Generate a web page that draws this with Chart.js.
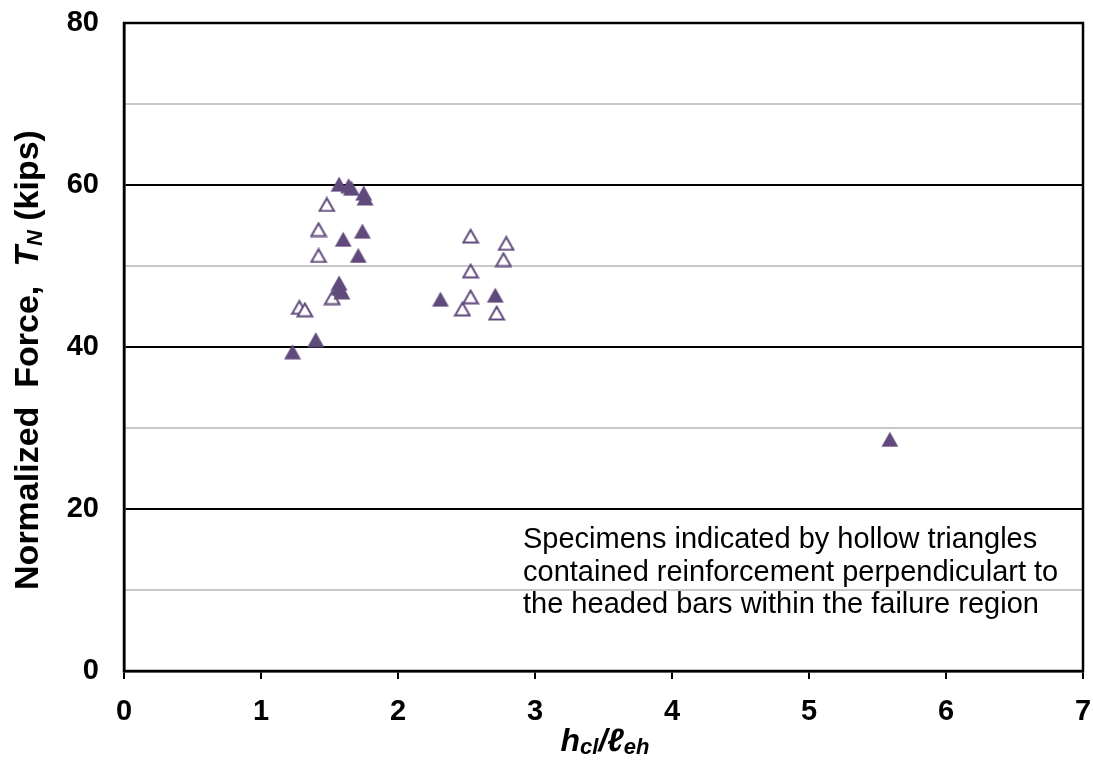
<!DOCTYPE html>
<html>
<head>
<meta charset="utf-8">
<script src="https://cdn.jsdelivr.net/npm/chart.js@4"></script>
<style>
  html, body { margin: 0; padding: 0; background: #fff; }
  #wrap { width: 1093px; height: 762px; }
</style>
</head>
<body>
<div id="wrap"><canvas id="c" width="1093" height="762"></canvas></div>
<script>
// filled triangles (no perpendicular reinforcement)
const solidX = [1.23, 1.40, 1.57, 1.64, 1.66, 1.75, 1.76, 1.60, 1.74, 1.71, 1.57, 1.57, 1.59, 2.31, 2.71, 5.59];
const solidY = [39.4, 40.9, 60.1, 59.9, 59.6, 59.0, 58.4, 53.3, 54.3, 51.3, 47.9, 47.3, 46.8, 45.9, 46.4, 28.6];
// hollow triangles (reinforcement within failure region)
const hollowX = [1.48, 1.42, 1.42, 1.52, 1.28, 1.32, 2.53, 2.79, 2.77, 2.53, 2.53, 2.47, 2.72];
const hollowY = [57.6, 54.5, 51.3, 46.1, 44.9, 44.6, 53.7, 52.8, 50.8, 49.4, 46.2, 44.7, 44.2];
const noteLines = [
  'Specimens indicated by hollow triangles',
  'contained reinforcement perpendiculart to',
  'the headed bars within the failure region'
];

const purple = '#604a7b';
const FONT = '"Liberation Sans", Arial, sans-serif';

// Excel-like triangle marker, centred in its box
function triMarker(filled) {
  const cv = document.createElement('canvas');
  cv.width = 18; cv.height = 16;
  const g = cv.getContext('2d');
  g.beginPath();
  if (filled) {
    g.moveTo(9, 0.5); g.lineTo(17.5, 15.5); g.lineTo(0.5, 15.5);
  } else {
    g.moveTo(9, 1.8); g.lineTo(16.3, 14.6); g.lineTo(1.7, 14.6);
  }
  g.closePath();
  if (filled) {
    g.fillStyle = purple; g.fill();
  } else {
    g.fillStyle = '#fff'; g.fill();
    g.lineWidth = 2; g.strokeStyle = purple; g.stroke();
  }
  return cv;
}

const toPts = (xs, ys) => xs.map((x, i) => ({ x: x, y: ys[i] }));

function drawParts(ctx, parts, cx, y) {
  let w = 0;
  parts.forEach(p => { ctx.font = p[1]; w += ctx.measureText(p[0]).width; });
  let x = cx - w / 2;
  parts.forEach(p => {
    ctx.font = p[1];
    ctx.fillText(p[0], x, y + p[2]);
    x += ctx.measureText(p[0]).width;
  });
}

const frameAndText = {
  id: 'frameAndText',
  afterDraw(chart) {
    const { ctx, chartArea: a } = chart;
    ctx.save();
    ctx.strokeStyle = '#000';
    ctx.lineWidth = 2.5;
    ctx.strokeRect(a.left, a.top, a.right - a.left, a.bottom - a.top);

    // note
    ctx.fillStyle = '#000';
    ctx.font = '29px ' + FONT;
    ctx.textBaseline = 'alphabetic';
    ctx.textAlign = 'left';
    noteLines.forEach((t, i) => ctx.fillText(t, 523, 548 + i * 32.5));

    // x axis title: h_cl / l_eh
    const big = 'italic bold 32px ' + FONT;
    const sub = 'italic bold 22px ' + FONT;
    drawParts(ctx, [['h', big, 0], ['cl', sub, 3], ['/', big, 0], ['\u2113', big, 0], ['eh', sub, 3]], 605, 751);

    // y axis title
    ctx.translate(38, 360);
    ctx.rotate(-Math.PI / 2);
    const yb = 'bold 34px ' + FONT;
    const yi = 'italic bold 34px ' + FONT;
    const ys = 'italic bold 22px ' + FONT;
    drawParts(ctx, [['Normalized  Force,  ', yb, 0], ['T', yi, 0], ['N', ys, 4], [' (kips)', yb, 0]], 0, 0);
    ctx.restore();
  }
};

new Chart(document.getElementById('c'), {
  type: 'scatter',
  data: {
    datasets: [
      { label: 'Solid', data: toPts(solidX, solidY), pointStyle: triMarker(true), pointRadius: 9, pointHoverRadius: 9 },
      { label: 'Hollow', data: toPts(hollowX, hollowY), pointStyle: triMarker(false), pointRadius: 9, pointHoverRadius: 9 }
    ]
  },
  options: {
    responsive: false,
    animation: false,
    layout: { padding: { left: 0, right: 8, top: 23, bottom: 0 } },
    plugins: { legend: { display: false }, tooltip: { enabled: false } },
    scales: {
      x: {
        type: 'linear', min: 0, max: 7,
        afterFit(s) { s.height = 91; s.paddingLeft = 0; s.paddingRight = 0; },
        ticks: {
          stepSize: 1, color: '#000', padding: 16,
          font: { family: FONT, size: 29, weight: 'bold' }
        },
        grid: { drawOnChartArea: false, drawTicks: true, tickLength: 8, color: '#000', lineWidth: 2 },
        border: { color: '#000', width: 2.5 }
      },
      y: {
        type: 'linear', min: 0, max: 80,
        afterFit(s) { s.width = 124; s.paddingTop = 0; s.paddingBottom = 0; },
        ticks: {
          stepSize: 10, color: '#000', padding: 25,
          font: { family: FONT, size: 29, weight: 'bold' },
          callback: v => (v % 20 === 0 ? v : '')
        },
        grid: {
          drawTicks: false,
          color: c => (c.tick.value % 20 === 0 ? '#000' : '#c8c8c8'),
          lineWidth: 2
        },
        border: { color: '#000', width: 2.5 }
      }
    }
  },
  plugins: [frameAndText]
});
</script>
</body>
</html>
